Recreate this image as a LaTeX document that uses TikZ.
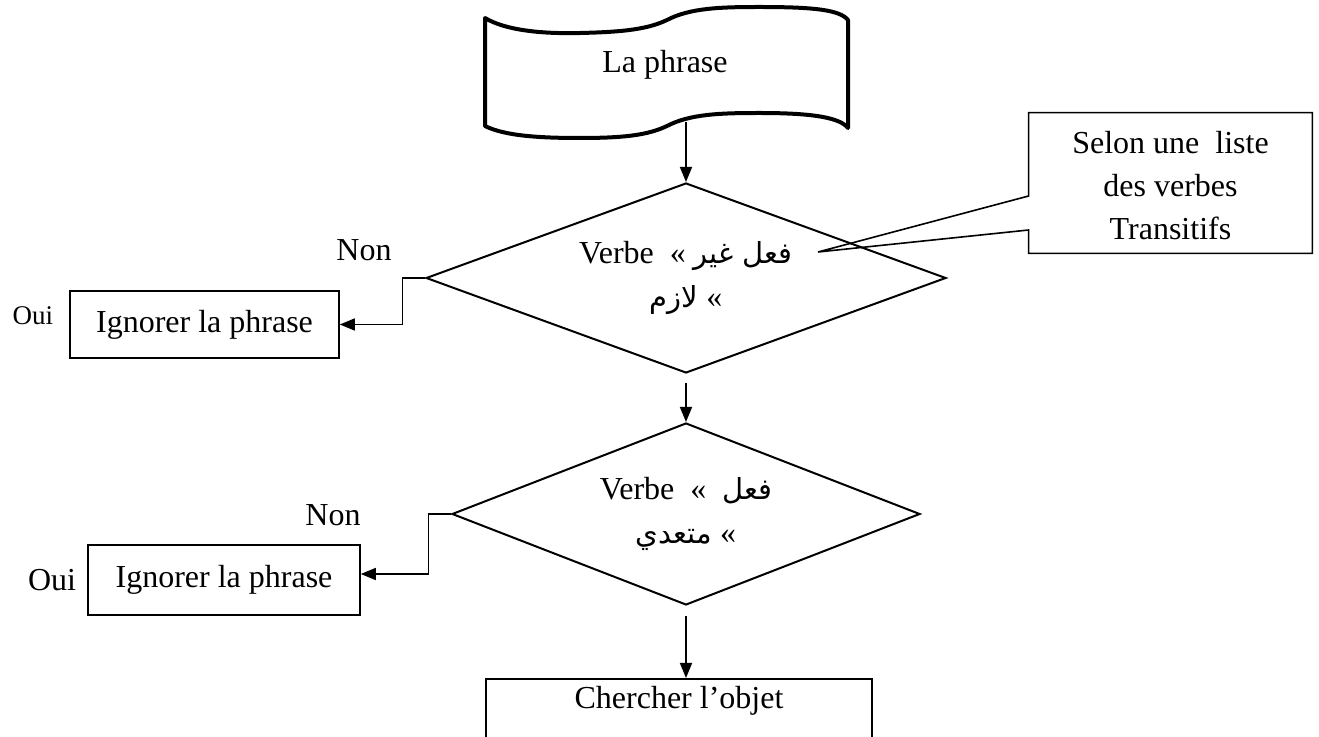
\documentclass[tikz,border=0pt]{standalone}
\usepackage{fontspec}
\setmainfont{Liberation Serif}
\newfontfamily\arabicfont[Script=Arabic]{DejaVu Sans}
\TeXXeTstate=1
\usetikzlibrary{shapes.geometric,arrows.meta}
\newcommand{\ar}[1]{{\arabicfont\fontsize{14.5}{20}\selectfont\beginR #1\endR}}
\tikzset{
  txt/.style={font=\fontsize{16}{22}\selectfont, inner sep=0pt},
  decision/.style={diamond, draw, line width=1pt, inner sep=0pt,
    align=center, font=\fontsize{16}{22}\selectfont},
  procbox/.style={rectangle, draw, line width=0.8pt, inner sep=0pt,
    font=\fontsize{16}{20}\selectfont},
  flow/.style={line width=0.8pt, -{Triangle[length=7.5pt,width=6pt]}},
}
\begin{document}
\begin{tikzpicture}[x=0.5pt, y=-0.5pt]
\useasboundingbox (0,0) rectangle (1319,737);
\clip (0,0) rectangle (1319,737);

% input document (wavy banner)
\draw[line width=2pt, line join=round]
  (485,18) .. controls (505,30) and (540,34) .. (580,33)
           .. controls (625,32) and (648,29) .. (667,20)
           .. controls (690,8) and (720,7) .. (760,7)
           .. controls (815,7) and (840,10) .. (848,20)
  -- (848,128)
           .. controls (840,118) and (815,113) .. (760,113)
           .. controls (720,113) and (690,114) .. (667,126)
           .. controls (648,135) and (625,138) .. (580,138)
           .. controls (540,138) and (505,136) .. (485,126)
  -- cycle;
\node[txt] (doc) at (665,65) {La phrase};
\coordinate (docb) at (686,122);

% decisions
\node[decision, aspect=2.737, minimum width=260pt, minimum height=95pt] (d1) at (686,278)
  {Verbe\ \ «\ \ar{فعل غير}\\ \ar{لازم}\ «};
\node[decision, aspect=2.57, minimum width=234pt, minimum height=91pt] (d2) at (686,514)
  {Verbe\ \ «\ \ \ar{فعل}\\ \ar{متعدي}\ «};

% side boxes
\node[procbox, minimum width=134.5pt, minimum height=33.5pt] (ig1) at (204.5,324.5) {Ignorer la phrase};
\node[procbox, minimum width=136pt, minimum height=35pt] (ig2) at (224,580) {Ignorer la phrase};
\node[procbox, minimum width=193pt, minimum height=45pt, anchor=north] (obj) at (679,678) {};
\node[txt, font=\fontsize{16}{20}\selectfont] (objt) at (679,701) {Chercher l’objet};

% labels
\node[txt] (non1) at (364,250) {Non};
\node[txt, font=\fontsize{13.5}{16}\selectfont] (oui1) at (33,316) {Oui};
\node[txt] (non2) at (333,515) {Non};
\node[txt] (oui2) at (52,580) {Oui};

% callout note
\node[txt, align=center, font=\fontsize{16}{21.5}\selectfont,
  minimum width=141.5pt, minimum height=70pt] (note) at (1170.5,186)
  {Selon une\ \ liste\\des verbes\\Transitifs};
\coordinate (tip) at (818,252);
\draw[line width=0.8pt]
  ([yshift=1.5pt]note.north west) -- ([yshift=1.5pt]note.north east)
  -- ([yshift=1.5pt]note.south east) -- ([yshift=1.5pt]note.south west)
  -- ([yshift=-22pt]note.west) -- (tip) -- ([yshift=-5pt]note.west) -- cycle;

% connectors
\draw[flow] (docb) -- (d1.north);
\draw[flow] ([yshift=-4.5pt]d1.south) -- (d2.north);
\draw[flow] ([yshift=-5pt]d2.south) -- (d2.south |- obj.north);
\draw[flow] (d1.west) -- ++(-22.5,0) |- (ig1.east);
\draw[flow] (d2.west) -- ++(-22.5,0) |- ([yshift=3pt]ig2.east);
\end{tikzpicture}
\end{document}
